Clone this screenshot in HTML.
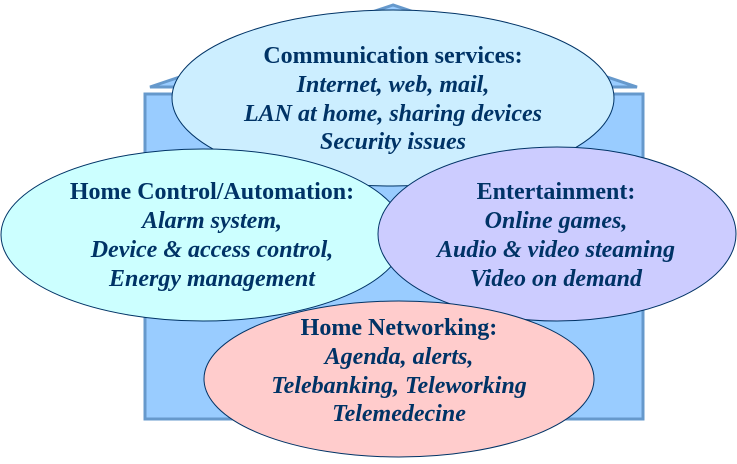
<!DOCTYPE html>
<html><head><style>
html,body{margin:0;padding:0;background:#fff;}
svg text{font-family:"Liberation Serif",serif;font-size:24px;font-weight:bold;fill:#003366;text-anchor:middle;}
svg text.i{font-style:italic;}
</style></head><body>
<svg width="737" height="459" xmlns="http://www.w3.org/2000/svg">
<polygon points="393,5 150,87 637,87" fill="#99ccff" stroke="#6699cc" stroke-width="3"/>
<rect x="145" y="94" width="498" height="325" fill="#99ccff" stroke="#6699cc" stroke-width="3"/>
<ellipse cx="393" cy="98" rx="221" ry="88" fill="#cceeff" stroke="#003366" stroke-width="1"/>
<ellipse cx="203" cy="235" rx="202" ry="86" fill="#ccffff" stroke="#003366" stroke-width="1"/>
<ellipse cx="557" cy="234" rx="179" ry="87" fill="#ccccff" stroke="#003366" stroke-width="1"/>
<ellipse cx="399" cy="379" rx="195" ry="78" fill="#ffcccc" stroke="#003366" stroke-width="1"/>
<text x="393" y="63">Communication services:</text>
<text class="i" x="393" y="92">Internet, web, mail,</text>
<text class="i" x="393" y="121">LAN at home, sharing devices</text>
<text class="i" x="393" y="149">Security issues</text>
<text x="212" y="199">Home Control/Automation:</text>
<text class="i" x="212" y="228">Alarm system,</text>
<text class="i" x="212" y="257">Device &amp; access control,</text>
<text class="i" x="212" y="286">Energy management</text>
<text x="556" y="199">Entertainment:</text>
<text class="i" x="556" y="228">Online games,</text>
<text class="i" x="556" y="257">Audio &amp; video steaming</text>
<text class="i" x="556" y="286">Video on demand</text>
<text x="399" y="335">Home Networking:</text>
<text class="i" x="399" y="364">Agenda, alerts,</text>
<text class="i" x="399" y="393">Telebanking, Teleworking</text>
<text class="i" x="399" y="421">Telemedecine</text>
</svg>
</body></html>
